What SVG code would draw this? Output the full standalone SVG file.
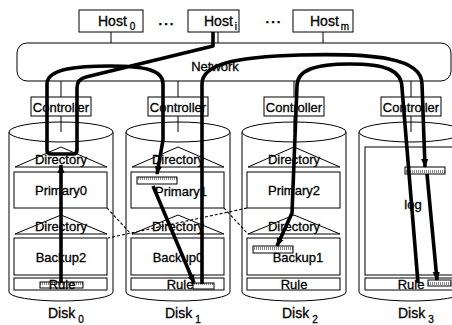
<svg xmlns="http://www.w3.org/2000/svg" width="452" height="325" viewBox="0 0 452 325">
<style>
.box{fill:#fff;stroke:#000;stroke-width:1}
.ln{fill:none;stroke:#000;stroke-width:1}
.t{font-family:"Liberation Sans",Arial,sans-serif;font-size:13px;fill:#000;stroke:#000;stroke-width:0.3;text-anchor:middle}
.s{text-anchor:start;font-size:14px}
.thick{fill:none;stroke:#000;stroke-width:3.6;stroke-linejoin:round;stroke-linecap:butt}
.dash{fill:none;stroke:#000;stroke-width:1.1;stroke-dasharray:3 2}
.hatch{fill:url(#hp);stroke:#000;stroke-width:1}
</style>
<defs>
<pattern id="hp" width="2" height="7" patternUnits="userSpaceOnUse">
<rect width="2" height="7" fill="#fff"/>
<rect x="0" y="2" width="1" height="3" fill="#888"/>
</pattern>
<marker id="ah" viewBox="0 0 10 8" refX="9" refY="4" markerWidth="9" markerHeight="8" markerUnits="userSpaceOnUse" orient="auto">
<path d="M0,0 L10,4 L0,8 Z" fill="#000"/>
</marker>
</defs>
<rect width="452" height="325" fill="#fff"/>

<g id="host0">
<rect class="box" x="79" y="10" width="64" height="22"/>
<text class="t s" x="98" y="26">Host<tspan dx="3" dy="4" font-size="10">0</tspan></text>
</g>
<text class="t" x="167" y="25" font-size="14" font-weight="bold" letter-spacing="2">...</text>
<g id="hosti">
<rect class="box" x="188" y="10" width="51" height="22"/>
<text class="t s" x="204" y="26">Host<tspan dx="2" dy="4" font-size="10">i</tspan></text>
</g>
<text class="t" x="274" y="23" font-size="14" font-weight="bold" letter-spacing="2">...</text>
<g id="hostm">
<rect class="box" x="293" y="10" width="60" height="22"/>
<text class="t s" x="310" y="26">Host<tspan dx="2" dy="4" font-size="10">m</tspan></text>
</g>

<g id="network">
<rect class="box" x="17" y="43" width="434" height="38" rx="10"/>
<text class="t" x="215" y="71">Network</text>
</g>

<g id="ctrl0"><rect class="box" x="31" y="97" width="60" height="19"/><text class="t" x="61" y="111.5" font-size="12.5">Controller</text></g>
<g id="ctrl1"><rect class="box" x="148" y="97" width="60" height="19"/><text class="t" x="178" y="111.5" font-size="12.5">Controller</text></g>
<g id="ctrl2"><rect class="box" x="264" y="97" width="60" height="19"/><text class="t" x="294" y="111.5" font-size="12.5">Controller</text></g>
<g id="ctrl3"><rect class="box" x="381" y="97" width="60" height="19"/><text class="t" x="411" y="111.5" font-size="12.5">Controller</text></g>

<g id="disk0">
<path class="box" d="M9,132 L9,292 A52,9 0 0 0 113,292 L113,132 Z"/>
<ellipse class="box" cx="61" cy="132" rx="52" ry="10"/>
<path class="box" d="M15,167 L61,147 L107,167 Z"/>
<text class="t" x="61" y="164">Directory</text>
<rect class="box" x="14" y="172" width="93" height="36"/>
<text class="t" x="61" y="195">Primary0</text>
<path class="box" d="M15,234 L61,215 L107,234 Z"/>
<text class="t" x="61" y="231">Directory</text>
<rect class="box" x="14" y="238" width="93" height="37"/>
<text class="t" x="61" y="262">Backup2</text>
<rect class="box" x="14" y="278" width="93" height="12"/>
<rect class="hatch" x="40" y="282" width="43" height="6"/>
<text class="t" x="62" y="289" font-size="12.5">Rule</text>
<text class="t s" x="48" y="318">Disk<tspan dx="3" dy="5" font-size="10">0</tspan></text>
</g>

<g id="disk1">
<path class="box" d="M126,132 L126,292 A52,9 0 0 0 230,292 L230,132 Z"/>
<ellipse class="box" cx="178" cy="132" rx="52" ry="10"/>
<path class="box" d="M132,167 L178,147 L224,167 Z"/>
<text class="t" x="178" y="164">Directory</text>
<rect class="box" x="131" y="172" width="93" height="36"/>
<rect class="hatch" x="137" y="177" width="40" height="7"/>
<text class="t" x="181" y="196">Primary1</text>
<path class="box" d="M132,234 L178,215 L224,234 Z"/>
<text class="t" x="178" y="231">Directory</text>
<rect class="box" x="131" y="238" width="93" height="37"/>
<text class="t" x="178" y="262">Backup0</text>
<rect class="box" x="131" y="278" width="93" height="12"/>
<rect class="hatch" x="193" y="283" width="21" height="6"/>
<text class="t" x="180" y="289" font-size="12.5">Rule</text>
<text class="t s" x="165" y="318">Disk<tspan dx="3" dy="5" font-size="10">1</tspan></text>
</g>

<g id="disk2">
<path class="box" d="M242,132 L242,292 A52,9 0 0 0 346,292 L346,132 Z"/>
<ellipse class="box" cx="294" cy="132" rx="52" ry="10"/>
<path class="box" d="M248,167 L294,147 L340,167 Z"/>
<text class="t" x="294" y="164">Directory</text>
<rect class="box" x="247" y="172" width="93" height="36"/>
<text class="t" x="294" y="195">Primary2</text>
<path class="box" d="M248,234 L294,215 L340,234 Z"/>
<text class="t" x="294" y="231">Directory</text>
<rect class="box" x="247" y="238" width="93" height="37"/>
<rect class="hatch" x="253" y="246" width="40" height="7"/>
<text class="t" x="298" y="262">Backup1</text>
<rect class="box" x="247" y="278" width="93" height="12"/>
<text class="t" x="294" y="289" font-size="12.5">Rule</text>
<text class="t s" x="282" y="318">Disk<tspan dx="3" dy="5" font-size="10">2</tspan></text>
</g>

<g id="disk3">
<path class="box" d="M359,132 L359,292 A52,9 0 0 0 463,292 L463,132 Z"/>
<ellipse class="box" cx="411" cy="132" rx="52" ry="10"/>
<rect class="box" x="365" y="147" width="93" height="128"/>
<rect class="hatch" x="405" y="167" width="40" height="7"/>
<text class="t" x="413" y="209" font-size="13.5">log</text>
<rect class="box" x="365" y="278" width="93" height="12"/>
<rect class="hatch" x="428" y="280" width="23" height="6"/>
<text class="t" x="411" y="289" font-size="12.5">Rule</text>
<text class="t s" x="398" y="318">Disk<tspan dx="3" dy="5" font-size="10">3</tspan></text>
</g>

<g id="connectors">
<path class="ln" d="M111,32 V43 M218,32 V43 M323,32 V43"/>
<path class="ln" d="M61,81 V97 M178,81 V97 M294,81 V97 M411,81 V97"/>
<path class="ln" d="M61,116 V132 M178,116 V132 M294,116 V132 M411,116 V132"/>
<path class="dash" d="M107,208 L131,234"/>
<path class="dash" d="M247,208 L108,238"/>
<path class="dash" d="M224,208 L248,234"/>
<path class="thick" marker-end="url(#ah)" d="M213,32 L213,46 L86,77 Q77,79 77,88 L77,150 Q77,154 73,154 L51,154 Q47,154 47,150 L47,84 C47,68 80,66 110,66 C145,66 163,70 163,84 L163,140 L157,174"/>
<path class="thick" marker-end="url(#ah)" d="M61,283 L61,165"/>
<path class="thick" marker-end="url(#ah)" d="M153,186 L194,283"/>
<path class="thick" marker-end="url(#ah)" d="M202,284 L202,84 C202,64 235,57 300,55 C375,53 422,58 422,84 L425,167"/>
<path class="thick" marker-end="url(#ah)" d="M427,174 L437,280"/>
<path class="thick" marker-end="url(#ah)" d="M418,283 L402,88 C402,70 385,64 350,64 C315,64 297,70 297,86 L292,213 L277,246"/>
</g>
</svg>
